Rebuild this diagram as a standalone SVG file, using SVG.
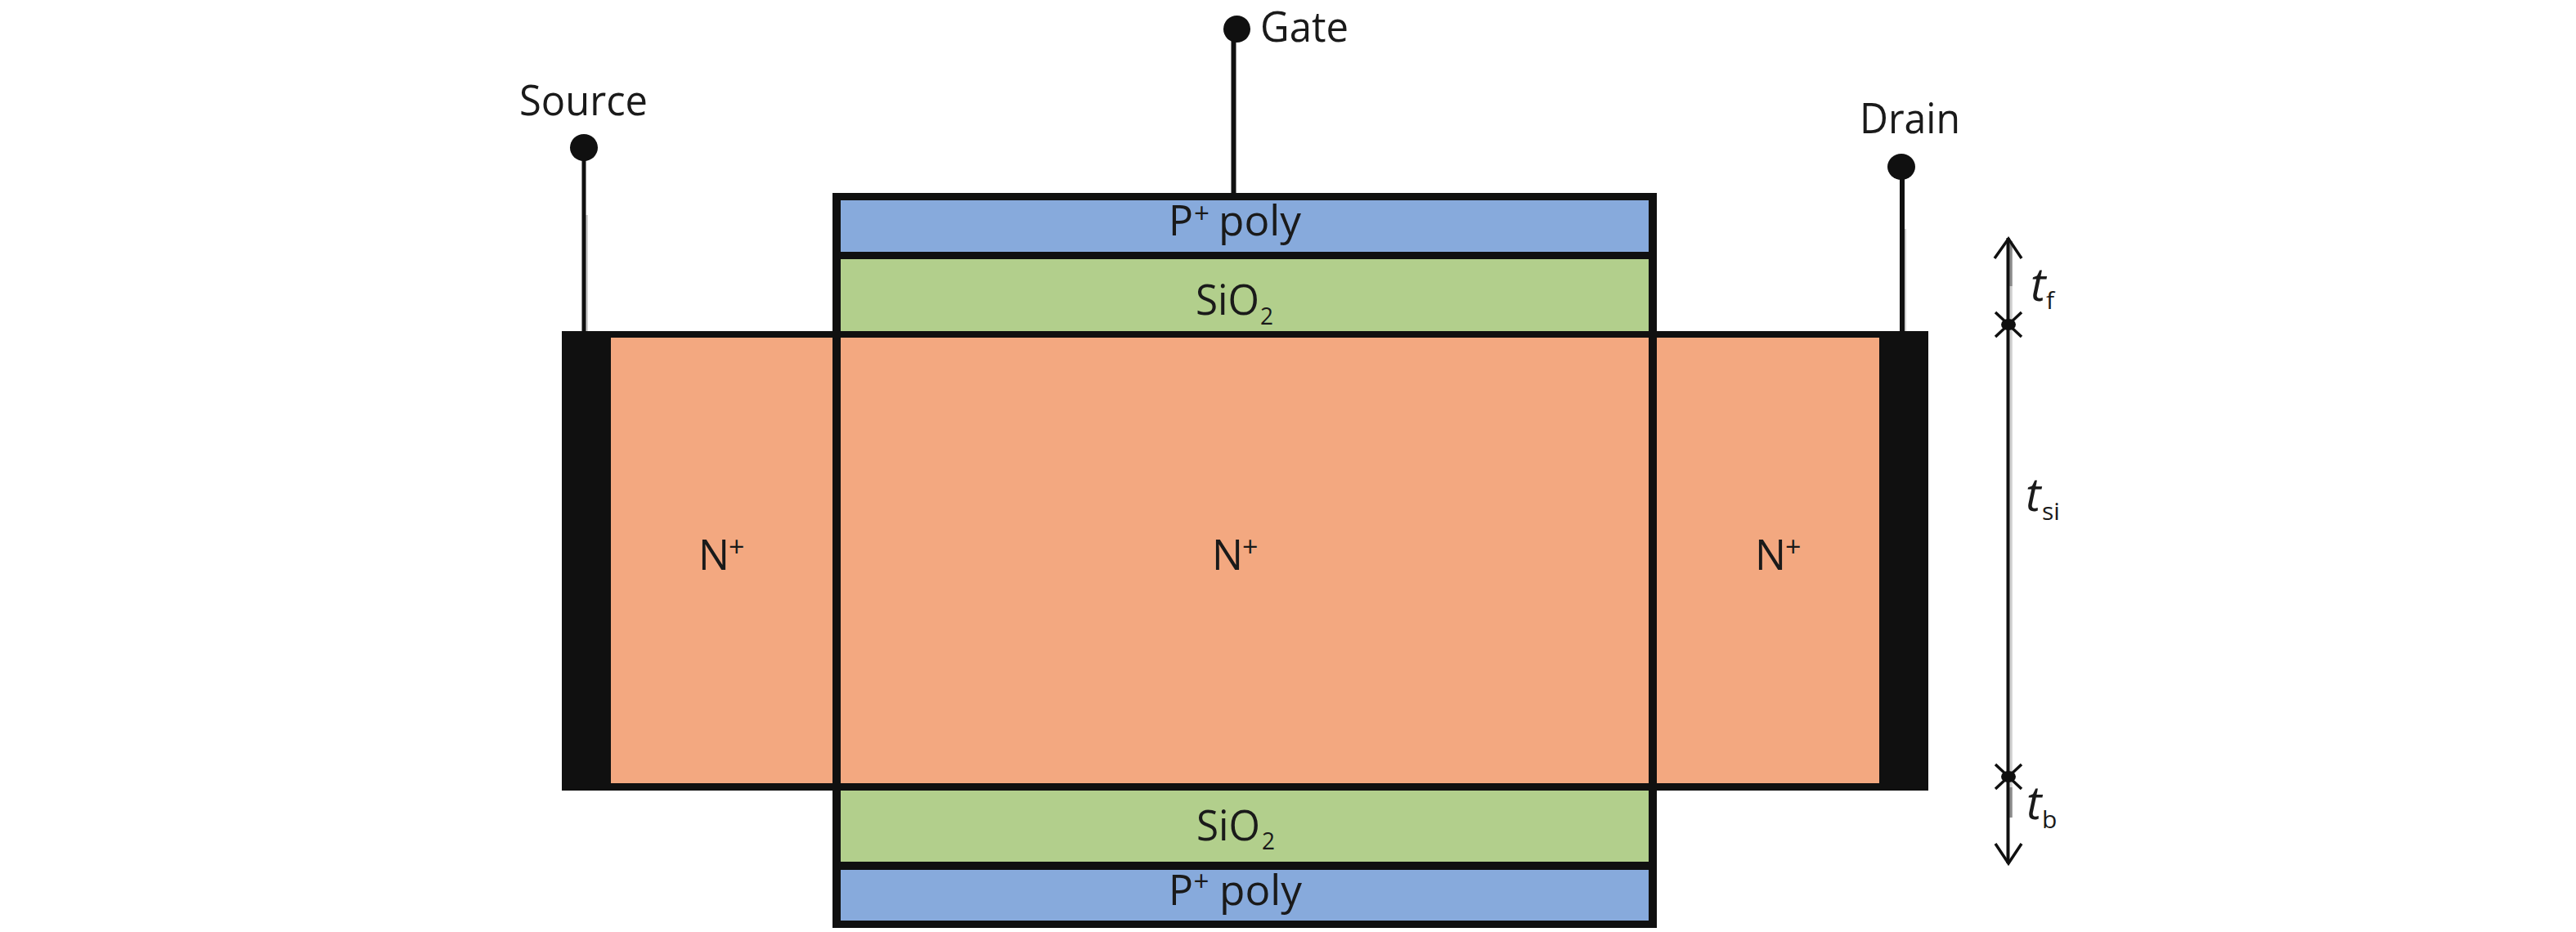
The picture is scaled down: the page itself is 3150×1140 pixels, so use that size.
<svg xmlns="http://www.w3.org/2000/svg" width="3150" height="1140" viewBox="0 0 3150 1140">
<style>
.t{font-family:"Open Sans","Liberation Sans",sans-serif;fill:#1a1a1a;font-size:52px}
.i{font-style:italic;font-size:56px}
.s{font-size:30px}
.p{font-size:34px}
.k{fill:#101010}
.l{stroke:#101010;fill:none}
.g{stroke:#cfcfcf;fill:none}
.m{stroke:#8c8c8c;fill:none}
</style>
<rect width="3150" height="1140" fill="#fff"/>
<g id="body"><rect class="k" x="687" y="405" width="1671" height="562"/><rect x="747" y="413" width="1551" height="545" fill="#f3a880"/></g>
<g id="top-stack"><rect class="k" x="1018" y="236" width="1008" height="177"/><rect x="1028" y="245" width="988" height="63" fill="#87aadc"/><rect x="1028" y="317" width="988" height="88" fill="#b2cf8c"/></g>
<g id="bottom-stack"><rect class="k" x="1018" y="958" width="1008" height="177"/><rect x="1028" y="967" width="988" height="87" fill="#b2cf8c"/><rect x="1028" y="1064" width="988" height="62" fill="#87aadc"/></g>
<g id="channel-walls"><rect class="k" x="1018" y="413" width="10" height="545"/><rect class="k" x="2016" y="413" width="10" height="545"/></g>
<g id="connectors">
<line class="g" x1="717.500" y1="263" x2="717.500" y2="405" stroke-width="3"/>
<line class="l" x1="714" y1="190" x2="714" y2="405" stroke-width="5"/>
<line class="l" x1="1508.500" y1="45" x2="1508.500" y2="236" stroke-width="6"/>
<line class="g" x1="2330" y1="280" x2="2330" y2="405" stroke-width="2"/>
<line class="l" x1="2326" y1="210" x2="2326" y2="405" stroke-width="6"/>
<line class="g" x1="2459" y1="350" x2="2459" y2="963" stroke-width="3.500"/>
<line class="m" x1="2459" y1="295" x2="2459" y2="350" stroke-width="3.500"/>
<line class="m" x1="2459" y1="963" x2="2459" y2="1000" stroke-width="3.500"/>
<line class="l" x1="2455.500" y1="291" x2="2455.500" y2="1056" stroke-width="4"/>
<path class="l" stroke-width="3.500" d="M2439 316L2456 292L2472 316M2440 382L2472 412M2472 382L2440 412M2440 935L2472 965M2472 935L2440 965M2440 1032L2456 1056L2472 1032"/>
<ellipse class="k" cx="2456" cy="397" rx="9" ry="7"/>
<ellipse class="k" cx="2456" cy="950" rx="9" ry="7"/>
</g>
<g id="source-terminal"><ellipse class="k" cx="714" cy="180.500" rx="17" ry="16.500"/><text class="t" x="635" y="141" textLength="157" lengthAdjust="spacingAndGlyphs">Source</text></g>
<g id="gate-terminal"><ellipse class="k" cx="1512.500" cy="35.500" rx="16.500" ry="16.500"/><text class="t" x="1541" y="50.500" textLength="108" lengthAdjust="spacingAndGlyphs">Gate</text></g>
<g id="drain-terminal"><ellipse class="k" cx="2325" cy="204" rx="17" ry="16"/><text class="t" x="2274" y="162.500" textLength="123" lengthAdjust="spacingAndGlyphs">Drain</text></g>
<g id="labels">
<text class="t" x="1429" y="288" textLength="30" lengthAdjust="spacingAndGlyphs">P</text><text class="t p" x="1460" y="273" textLength="19" lengthAdjust="spacingAndGlyphs">+</text><text class="t" x="1490" y="288" textLength="101" lengthAdjust="spacingAndGlyphs">poly</text>
<text class="t" x="1462" y="385" textLength="78" lengthAdjust="spacingAndGlyphs">SiO</text><text class="t s" x="1541" y="397" textLength="16" lengthAdjust="spacingAndGlyphs">2</text>
<text class="t" x="1463" y="1028" textLength="78" lengthAdjust="spacingAndGlyphs">SiO</text><text class="t s" x="1543" y="1039" textLength="16" lengthAdjust="spacingAndGlyphs">2</text>
<text class="t" x="1429" y="1107" textLength="30" lengthAdjust="spacingAndGlyphs">P</text><text class="t p" x="1459.500" y="1090" textLength="19" lengthAdjust="spacingAndGlyphs">+</text><text class="t" x="1491" y="1107" textLength="101" lengthAdjust="spacingAndGlyphs">poly</text>
<text class="t" x="854" y="697" textLength="38" lengthAdjust="spacingAndGlyphs">N</text><text class="t p" x="891" y="681">+</text>
<text class="t" x="1482" y="697" textLength="38" lengthAdjust="spacingAndGlyphs">N</text><text class="t p" x="1519" y="681">+</text>
<text class="t" x="2146" y="697" textLength="38" lengthAdjust="spacingAndGlyphs">N</text><text class="t p" x="2183" y="681">+</text>
<text class="t i" x="2483" y="368">t</text><text class="t s" x="2502" y="378">f</text>
<text class="t i" x="2477" y="625">t</text><text class="t s" x="2497" y="636">si</text>
<text class="t i" x="2478" y="1002">t</text><text class="t s" x="2497" y="1013">b</text>
</g>
</svg>
